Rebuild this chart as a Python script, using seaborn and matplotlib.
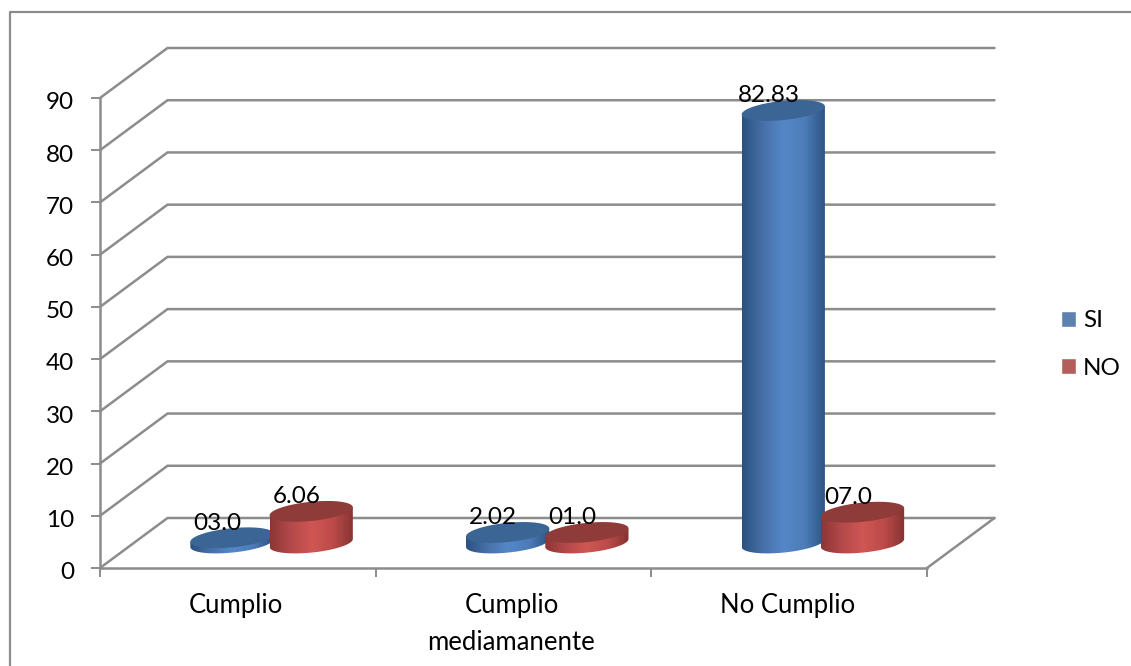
import matplotlib
matplotlib.use("Agg")
import matplotlib.pyplot as plt
from matplotlib.colors import LinearSegmentedColormap
from matplotlib.lines import Line2D
from matplotlib.path import Path
from matplotlib.patches import PathPatch
from matplotlib.transforms import ScaledTranslation
import numpy as np
import pandas as pd
import seaborn as sns

# values, the printed labels are cut off in the original
categories = ["Cumplio", "Cumplio\nmediamanente", "No Cumplio"]
si_values = [1.0, 2.02, 82.83]
no_values = [6.06, 2.02, 5.9]
si_labels = ["03.0", "2.02", "82.83"]
no_labels = ["6.06", "01.0", "07.0"]
y_ticks = list(range(0, 100, 10))

GRID = "#8c8c8c"
SI_COLOR = "#4F81BD"
NO_COLOR = "#C0504D"

sns.set_theme(style="white")
plt.rcParams["font.family"] = ["Lato", "DejaVu Sans"]
plt.rcParams["text.color"] = "black"
plt.rcParams["xtick.labelcolor"] = "black"
plt.rcParams["ytick.labelcolor"] = "black"
FS = 17.5

df = pd.DataFrame({
    "categoria": categories * 2,
    "serie": ["SI"] * 3 + ["NO"] * 3,
    "valor": si_values + no_values,
})

fig = plt.figure(figsize=(11.31, 6.66), dpi=100)
W, H = 1131, 666
ax = fig.add_axes([100 / W, 1 - 568 / H, 827 / W, 470 / H])

sns.barplot(data=df, x="categoria", y="valor", hue="serie", hue_order=["SI", "NO"],
            palette=[SI_COLOR, NO_COLOR], width=0.575, ax=ax)
ax.set_xlim(-0.5, 2.5)
ax.set_ylim(0, 90)

# pixels to data units
px_x = 3 / 827
px_y = 90 / 470
depth_x = 67.5 * px_x
depth_y = 50 * px_y

# walls and floor
for v in y_ticks:
    ax.plot([-0.5, -0.5 + depth_x, 2.5 + depth_x], [v, v + depth_y, v + depth_y],
            color=GRID, lw=1.8, clip_on=False, zorder=1, solid_joinstyle="miter")
ax.plot([2.5, 2.5 + depth_x], [0, depth_y], color=GRID, lw=1.8, clip_on=False, zorder=1)

side_maps = {
    SI_COLOR: LinearSegmentedColormap.from_list("si", ["#2C5180", "#4671A8", "#5587C8", "#4C7CB8", "#2C5280"]),
    NO_COLOR: LinearSegmentedColormap.from_list("no", ["#8C3634", "#B5494A", "#CF5653", "#BC4B49", "#853331"]),
}
cap_colors = {SI_COLOR: "#3A6595", NO_COLOR: "#8F3B39"}
gradient = np.linspace(0, 1, 256).reshape(1, -1)

base = depth_y / 2
tilt = 4 * px_y
semi_h = 9.6 * px_y
t = np.linspace(0, 2 * np.pi, 121)


def ellipse(cx, cy, a):
    return cx + a * np.cos(t), cy + tilt * np.cos(t) + semi_h * np.sin(t)


def draw_cylinder(cx, half, value, color):
    top = base + value
    lower = t[60:]
    verts_x = np.concatenate([cx + half * np.cos(lower), [cx + half, cx - half]])
    verts_y = np.concatenate([base + tilt * np.cos(lower) + semi_h * np.sin(lower), [top + tilt, top - tilt]])
    clip = Path(np.column_stack([verts_x, verts_y]))
    img = ax.imshow(gradient, extent=[cx - half, cx + half, base - semi_h * 2, top + tilt],
                    cmap=side_maps[color], aspect="auto", zorder=3, interpolation="bilinear")
    img.set_clip_path(PathPatch(clip, transform=ax.transData))
    x_top, y_top = ellipse(cx, top, half)
    ax.fill(x_top, y_top, color=cap_colors[color], lw=0, zorder=3, clip_on=False)


bars = [p for c in ax.containers for p in c]
colors = [SI_COLOR] * 3 + [NO_COLOR] * 3
texts = si_labels + no_labels

sns.move_legend(ax, "center left", bbox_to_anchor=(1056 / W, 1 - 344.5 / H),
                bbox_transform=fig.transFigure, frameon=False, title=None,
                fontsize=FS, handlelength=0.617, handleheight=0.6, handletextpad=0.29,
                labelspacing=1.07, borderaxespad=0, borderpad=0.2)

for bar, color, label in zip(bars, colors, texts):
    bar.set_visible(False)
    cx = bar.get_x() + bar.get_width() / 2 + depth_x / 2
    draw_cylinder(cx, bar.get_width() / 2 * 1.05, bar.get_height(), color)
    ax.annotate(label, (cx, base + bar.get_height()), xytext=(-10.5, 10.5), textcoords="offset points",
                ha="center", va="center", fontsize=FS, color="black", zorder=5,
                annotation_clip=False)

ax.set_xlim(-0.5, 2.5)
ax.set_ylim(0, 90)
ax.patch.set_visible(False)
ax.set_xlabel("")
ax.set_ylabel("")
ax.set_yticks(y_ticks)
ax.set_xticks([-0.5, 0.5, 1.5, 2.5], labels=[])
ax.set_xticks([0, 1, 2], labels=categories, minor=True)
ax.tick_params(axis="y", which="major", length=6.5, width=1.4, color=GRID, labelsize=FS, pad=12, left=True)
ax.tick_params(axis="x", which="major", length=6.5, width=1.4, color=GRID, bottom=True)
ax.tick_params(axis="x", which="minor", length=0, labelsize=18.5, pad=18)
for lab in ax.get_xticklabels(minor=True):
    lab.set_linespacing(1.6)
    lab.set_transform(lab.get_transform() + ScaledTranslation(-1.5 / 72, 0, fig.dpi_scale_trans))
for lab in ax.get_yticklabels():
    lab.set_transform(lab.get_transform() + ScaledTranslation(0, -2 / 72, fig.dpi_scale_trans))
sns.despine(ax=ax, top=True, right=True)
for side in ["left", "bottom"]:
    ax.spines[side].set_color(GRID)
    ax.spines[side].set_linewidth(1.8)

# chart frame, runs off the picture on the right and at the bottom
fig.add_artist(Line2D([9.5 / W, 9.5 / W, 1], [0, 1 - 12 / H, 1 - 12 / H], color=GRID, lw=1.6))

fig.savefig("out.png", dpi=100)
